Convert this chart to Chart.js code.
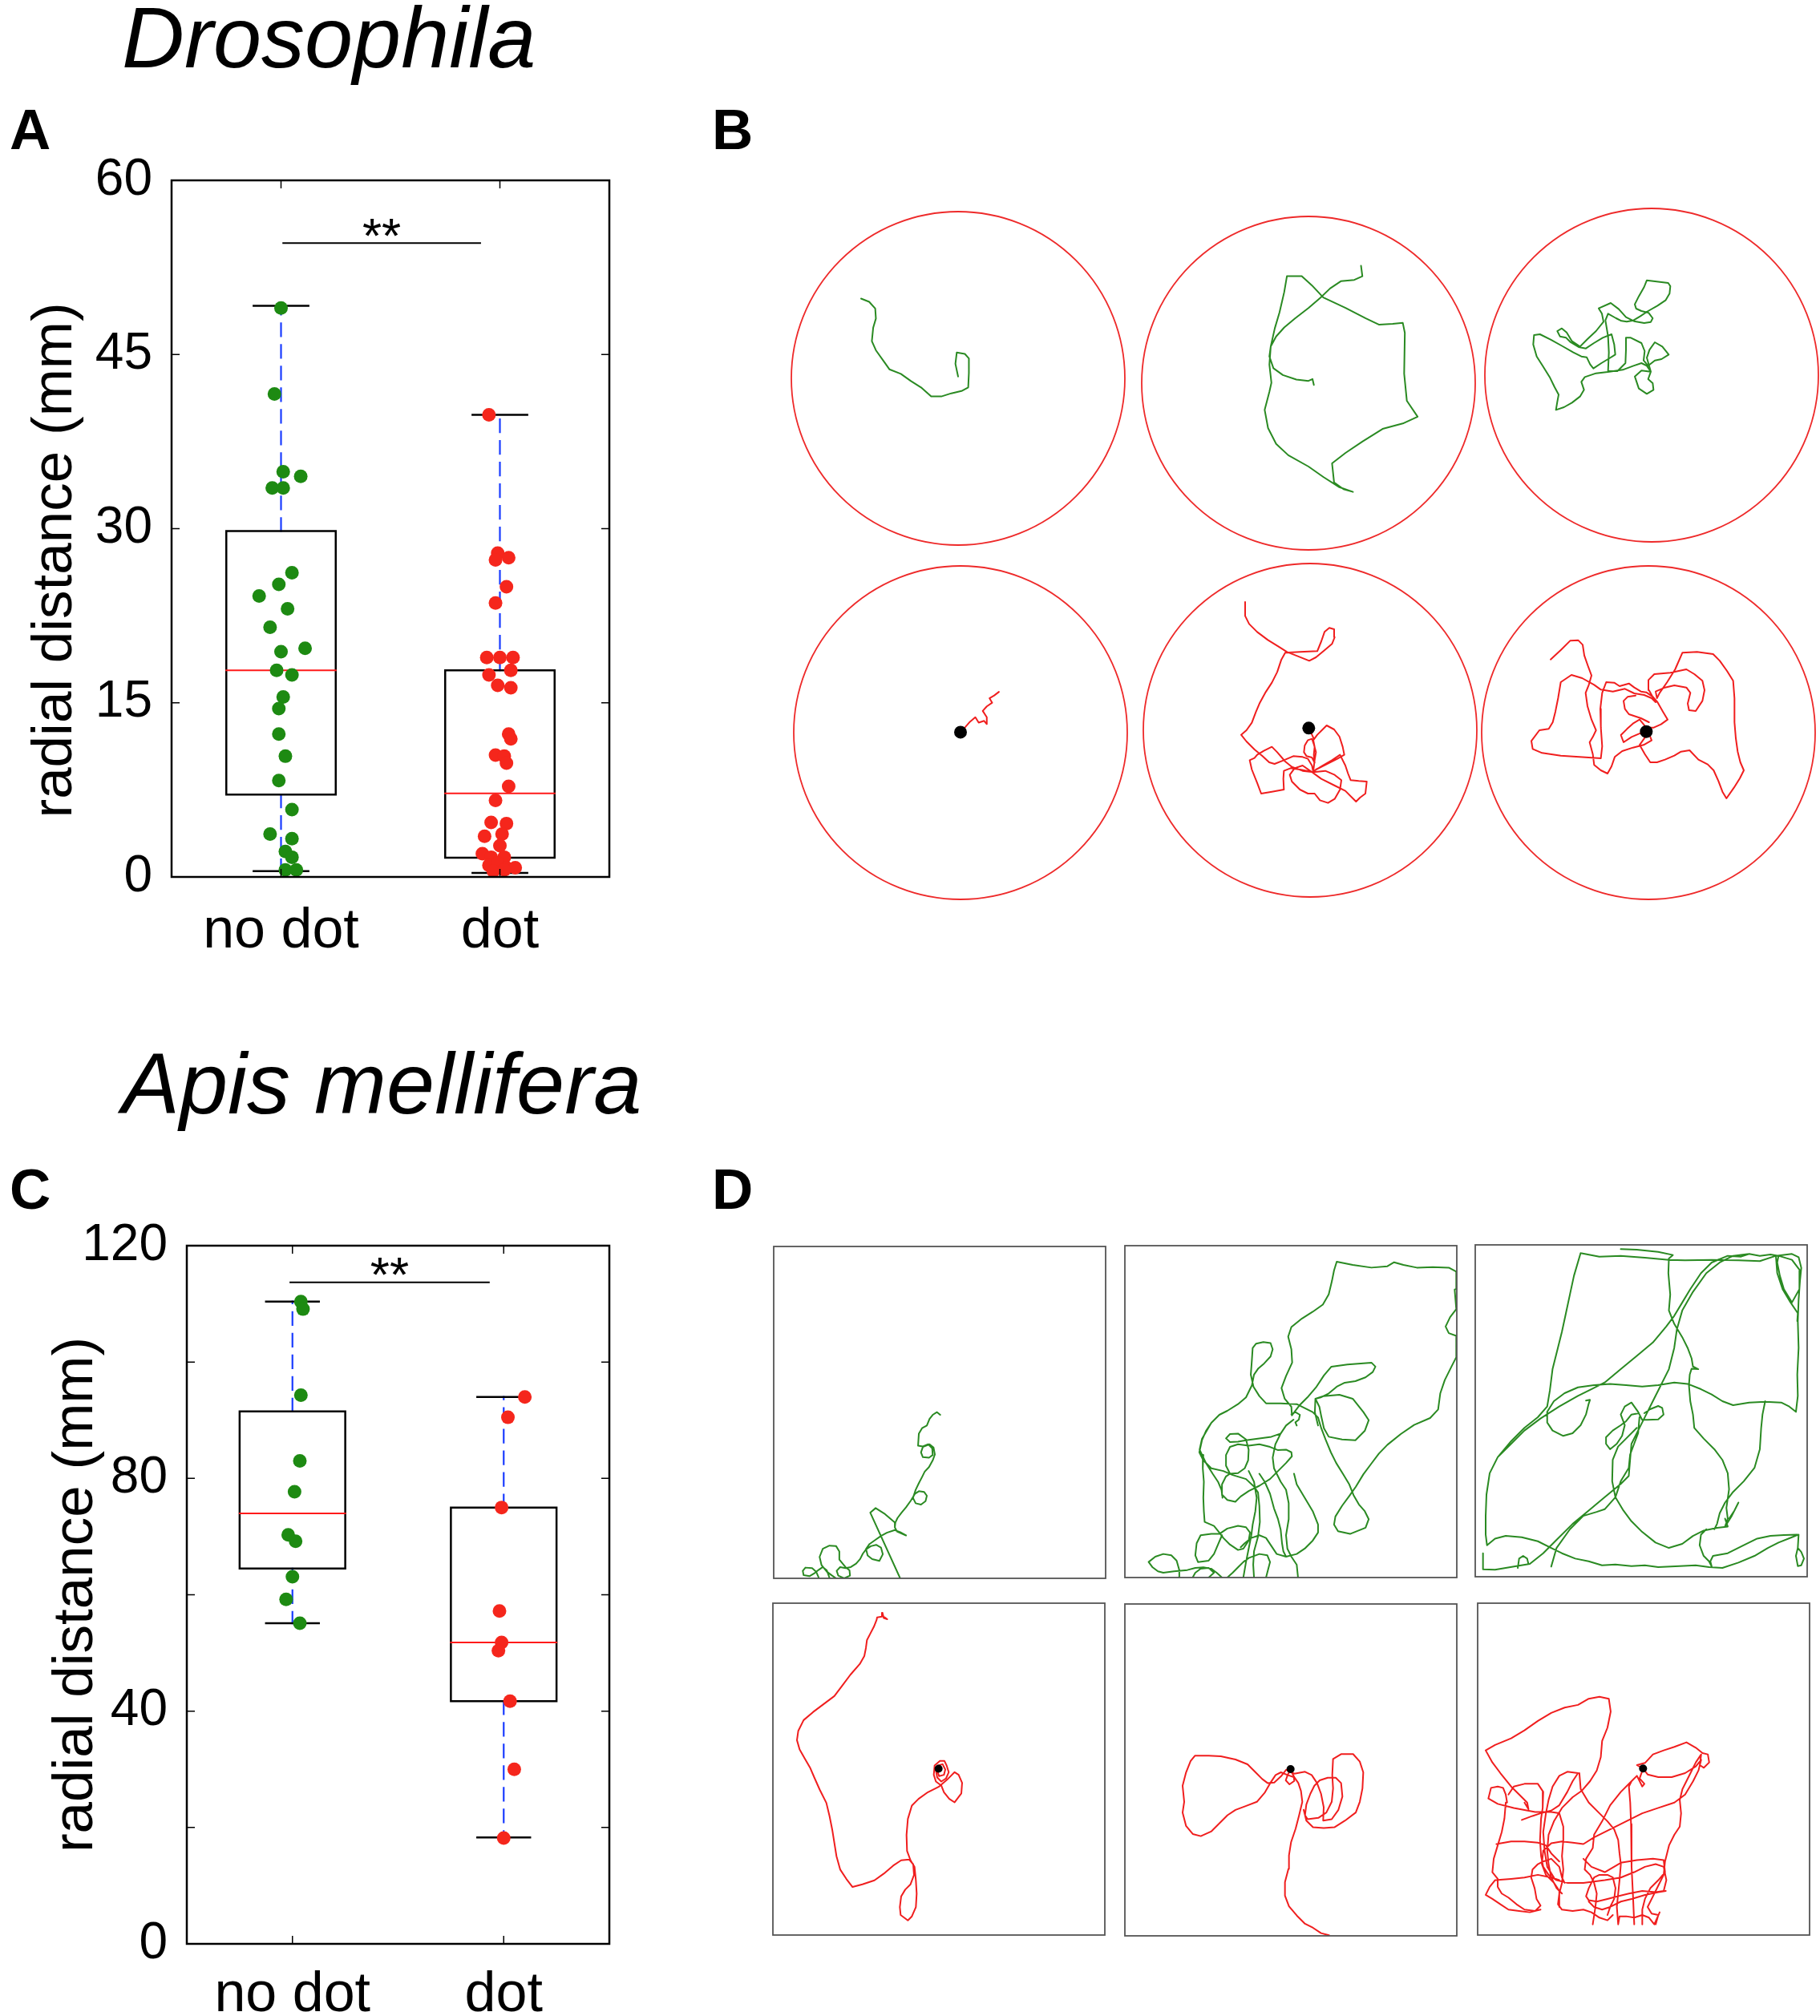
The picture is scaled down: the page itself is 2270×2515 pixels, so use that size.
<!DOCTYPE html>
<html>
<head>
<meta charset="utf-8">
<script src="https://cdn.jsdelivr.net/npm/chart.js@4.4.1/dist/chart.umd.min.js"></script>
<style>
  html, body { margin: 0; padding: 0; background: #fff; }
  #fig { position: relative; width: 2270px; height: 2515px; overflow: hidden; font-family: 'Liberation Sans', Arial, sans-serif; }
  #fig canvas { position: absolute; }
  .txt { position: absolute; line-height: 1; white-space: nowrap; color: #000; }
  .species { font-style: italic; font-size: 108px; }
  .panel { font-weight: bold; font-size: 71px; }
</style>
</head>
<body>
<div id="fig">
  <canvas id="chartA" width="800" height="1100" style="left:0;top:140px"></canvas>
  <canvas id="chartC" width="800" height="1045" style="left:0;top:1470px"></canvas>

  <canvas id="b1" width="440" height="440" style="left:975px;top:252px"></canvas>
  <canvas id="b2" width="440" height="440" style="left:1412px;top:258px"></canvas>
  <canvas id="b3" width="440" height="440" style="left:1840px;top:248px"></canvas>
  <canvas id="b4" width="440" height="440" style="left:978px;top:694px"></canvas>
  <canvas id="b5" width="440" height="440" style="left:1414px;top:691px"></canvas>
  <canvas id="b6" width="440" height="440" style="left:1836px;top:694px"></canvas>

  <canvas id="d1" width="434" height="434" style="left:955px;top:1545px"></canvas>
  <canvas id="d2" width="434" height="434" style="left:1393px;top:1544px"></canvas>
  <canvas id="d3" width="434" height="434" style="left:1830px;top:1543px"></canvas>
  <canvas id="d4" width="434" height="434" style="left:954px;top:1990px"></canvas>
  <canvas id="d5" width="434" height="434" style="left:1393px;top:1991px"></canvas>
  <canvas id="d6" width="434" height="434" style="left:1833px;top:1990px"></canvas>

  <div class="txt species" style="left:152px;top:-7px">Drosophila</div>
  <div class="txt species" style="left:152px;top:1298px">Apis mellifera</div>
  <div class="txt panel" style="left:12px;top:126px">A</div>
  <div class="txt panel" style="left:888px;top:126px">B</div>
  <div class="txt panel" style="left:12px;top:1448px">C</div>
  <div class="txt panel" style="left:888px;top:1448px">D</div>
</div>
<script>
// ---- box plot data (radial distance, mm) ----
const categories = ['no dot', 'dot'];

const droQ1 = [7.1, 1.65];
const droMedian = [17.8, 7.2];
const droQ3 = [29.8, 17.8];
const droWhiskerLo = [0.5, 0.35];
const droWhiskerHi = [49.2, 39.8];
const droNoDot = [49.0, 41.6, 34.9, 34.5, 33.5, 33.5, 26.2, 25.2, 24.2, 23.1, 21.5, 19.4, 19.7, 17.8, 17.4,
  15.5, 14.5, 12.3, 10.4, 8.3, 5.8, 3.7, 3.3, 2.2, 1.7, 0.6, 0.6];
const droNoDotJitter = [0, -0.03, 0.01, 0.09, -0.04, 0.01, 0.05, -0.01, -0.10, 0.03, -0.05, 0, 0.11, -0.02, 0.05,
  0.01, -0.01, -0.01, 0.02, -0.01, 0.05, -0.05, 0.05, 0.02, 0.05, 0.02, 0.07];
const droDot = [39.8, 27.9, 27.5, 27.3, 25.0, 23.6, 18.9, 18.9, 18.9, 17.4, 17.8, 16.5, 16.3, 12.3, 11.9, 10.5, 10.4,
  9.8, 7.8, 6.6, 4.7, 4.6, 3.5, 3.7, 2.7, 2.0, 1.7, 1.7, 1.0, 1.2, 0.8, 0.8, 0.5, 0.6];
const droDotJitter = [-0.05, -0.01, 0.04, -0.02, 0.03, -0.02, -0.06, 0, 0.06, -0.05, 0.05, -0.01, 0.05, 0.04, 0.05, -0.02, 0.02,
  0.03, 0.04, -0.02, -0.04, 0.03, -0.07, 0.01, 0, -0.08, -0.04, 0.02, -0.05, -0.01, 0.03, 0.07, -0.03, 0.02];
const droTicks = [0, 15, 30, 45, 60];
const droSignif = [1.01, 1.91, 54.6, 53.8]; // bar from, bar to, bar level, label baseline

const apiQ1 = [64.5, 41.7];
const apiMedian = [74.0, 51.8];
const apiQ3 = [91.5, 75.0];
const apiWhiskerLo = [55.1, 18.3];
const apiWhiskerHi = [110.4, 94.0];
const apiNoDot = [110.4, 109.1, 94.3, 83.0, 77.7, 70.3, 69.2, 63.1, 59.2, 55.1];
const apiNoDotJitter = [0.04, 0.05, 0.04, 0.035, 0.01, -0.02, 0.015, 0, -0.03, 0.035];
const apiDot = [94.0, 90.5, 75.0, 57.2, 51.8, 50.4, 41.7, 30.0, 18.2];
const apiDotJitter = [0.10, 0.02, -0.01, -0.02, -0.01, -0.025, 0.03, 0.05, 0];
const apiTicks = [0, 20, 40, 60, 80, 100, 120];
const apiSignif = [0.99, 1.93, 113.7, 112.2];

// ---- walking tracks, tracker pixel coords (y grows downwards), null = break ----
// circular arenas: [centre x, centre y, radius x, radius y]
const arenaB = [[280, 412, 247.5, 368], [800, 421, 247.5, 368], [508, 445, 624, 624],
  [283, 1194, 247.5, 368], [338, 508, 624, 624], [478, 459, 624, 624]];
const dotB = [null, null, null, [283, 1193], [333, 500], [470, 455]];

const trackB1 = [[136,236],[148,243],[157,258],[158,280],[154,300],[152,330],[158,350],[170,375],[178,392],[195,402],[210,418],
  [225,432],[240,452],[255,452],[270,445],[285,440],[295,432],[296,400],[296,368],[290,358],[278,355],[276,380],[280,408]];
const trackB2 = [[878,162],[880,185],[868,193],[848,196],[832,212],[818,232],[800,255],[780,278],[764,298],[752,318],[744,340],
  [742,362],[748,388],[762,403],[782,413],[800,416],[806,412],[808,425], null,
  [768,185],[790,185],[805,205],[822,232],[855,255],[885,278],[905,292],[925,290],[940,288],[943,310],[942,400],[946,460],
  [962,495],[940,510],[910,522],[880,550],[855,575],[835,598],[838,640],[852,655],[866,661],[845,650],[822,628],[800,605],
  [770,580],[752,555],[740,520],[735,480],[742,440],[745,420],[742,380],[744,340],[750,300],[757,265],[764,220],[768,185]];
const trackB3 = [[505,432],[490,410],[470,400],[440,410],[400,425],[350,432],[300,438],[258,452],[245,470],[255,500],[240,525],
  [210,548],[180,565],[150,575],[155,545],[160,518],[145,490],[128,455],[100,410],[78,375],[65,330],[68,295],[90,292],[130,312],
  [175,337],[215,360],[245,375],[265,378],[278,405],[290,420],[320,400],[350,382],[372,368],[368,330],[358,292],[325,305],
  [292,325],[262,345],[235,340],[205,322],[188,305],[165,300],[155,280],[172,270],[190,285],[210,318],[240,338],[268,310],
  [300,280],[328,245],[322,215],[310,195],[355,175],[385,198],[412,228],[442,243],[480,250],[505,246],[512,232],[497,212],
  [470,205],[450,196],[445,180],[460,150],[480,115],[490,90],[570,100],[578,112],[575,140],[560,165],[530,185],[495,205],
  [465,225],[440,240],[415,245],[395,242],[375,232],[345,215],[335,240],[345,300],[348,360],[345,430],[380,430],[410,400],
  [412,350],[412,305],[430,305],[470,325],[482,355],[478,390],[495,410],[520,390],[545,385],[572,368],[548,338],[520,322],
  [500,350],[490,380],[505,432],[470,428],[445,450],[460,495],[490,515],[515,500],[512,475],[495,460],[505,432]];
const trackB4 = [[283,1193],[290,1182],[297,1170],[305,1160],[310,1172],[318,1168],[322,1175],[322,1160],[316,1146],[322,1136],
  [330,1128],[326,1118],[333,1112],[340,1104]];
const trackB5 = [[95,28],[95,80],[110,110],[140,140],[180,170],[220,195],[252,215],[290,230],[335,248],[360,235],[390,210],
  [420,185],[430,160],[428,130],[410,125],[392,140],[380,175],[365,212],[300,215],[245,218],[230,245],[215,290],[195,330],
  [172,365],[150,405],[135,440],[120,480],[100,508],[80,525],[100,550],[130,580],[160,605],[185,628],[205,634],[240,620],
  [275,605],[310,608],[330,615],[345,640],[350,665],[310,660],[270,645],[245,625],[215,590],[195,570],[165,585],[140,600],
  [130,612],[112,620],[120,655],[140,705],[155,745],[195,738],[240,730],[238,690],[240,660],[265,650],[300,655],[350,665],
  [395,660],[430,675],[455,695],[450,730],[430,765],[405,780],[375,770],[355,745],[330,745],[300,730],[270,700],[262,675],
  [280,650],[310,640],[350,668],[380,690],[430,715],[470,735],[510,775],[525,760],[545,745],[550,700],[520,698],[490,695],
  [480,670],[470,640],[450,600],[420,620],[385,640],[350,662],[355,620],[360,590],[352,560],[345,540],[330,545],[318,565],
  [315,590],[325,605],[345,610],[355,630],[352,600],[355,570],[350,545],[365,525],[385,505],[400,490],[428,505],[448,532],
  [460,570],[466,600],[440,615],[400,635],[360,655], null, [345,500],[342,518],[352,540]];
const trackB6 = [[112,185],[150,150],[185,115],[215,113],[232,130],[238,170],[252,210],[265,245],[255,280],[243,310],[250,360],
  [265,410],[282,450],[270,475],[258,495],[270,540],[275,580],[300,600],[325,612],[340,585],[352,550],[380,528],[420,515],
  [460,505],[490,488],[480,462],[450,460],[415,475],[385,495],[375,468],[398,445],[420,425],[445,410],[470,440],[498,440],
  [525,428],[550,410],[532,380],[512,345],[495,325],[470,308],[450,305],[425,290],[405,275],[370,285],[350,272],[320,270],
  [305,310],[298,370],[300,440],[305,510],[300,555],[220,550],[150,545],[80,535],[45,520],[40,490],[70,450],[105,445],
  [120,420],[130,380],[140,330],[150,270],[190,243],[230,255],[275,280],[300,298],[345,305],[390,295],[425,312],[462,318],
  [490,330],[505,345],[480,300],[478,262],[500,240],[560,235],[620,222],[650,240],[680,265],[688,300],[680,340],[655,378],
  [630,375],[625,350],[635,310],[620,290],[575,282],[540,290],[505,305],[510,330],[520,310],[548,270],[578,222],[605,160],
  [660,157],[720,165],[745,190],[772,228],[795,265],[800,330],[800,420],[805,480],[812,530],[822,570],[835,600],[820,630],
  [798,665],[770,705],[755,680],[740,640],[722,600],[700,578],[665,560],[632,525],[600,530],[575,545],[540,560],[510,570],
  [485,570],[465,540],[445,505],[470,470],[471,456], null,
  [430,320],[400,325],[385,340],[390,370],[405,390],[450,405],[480,420]];

// square arenas: [x min, x max, y min, y max]
const arenaD = [[16, 1260, 22, 1260], [16, 1260, 18, 1258], [16, 1257, 14, 1258],
  [10, 1252, 12, 1255], [16, 1258, 22, 1260], [25, 1265, 15, 1255]];
const dotD = [null, null, null, [630, 632], [636, 638], [643, 633]];

const trackD1 = [[640,650],[628,640],[612,650],[600,665],[590,690],[572,700],[560,720],[557,765],[575,768],[595,760],[610,775],
  [612,800],[598,810],[575,808],[568,790],[575,770],[600,760],[615,772],[620,798],[612,820],[598,845],[582,862],[572,882],
  [560,905],[548,930],[538,960],[548,980],[568,985],[585,972],[590,952],[580,938],[560,935],[545,945],[530,970],[512,995],
  [495,1015],[480,1035],[472,1052],[470,1070],[478,1085],[512,1100],[490,1088],[470,1080],[440,1090],[418,1102],[395,1118],
  [375,1132],[362,1150],[368,1175],[385,1188],[412,1195],[425,1170],[418,1145],[400,1135],[380,1140],[362,1152],[350,1168],
  [340,1188],[325,1205],[305,1218],[285,1222],[265,1218],[252,1232],[258,1250],[280,1260],[302,1250],[300,1230],[285,1218],
  [262,1190],[262,1160],[250,1140],[225,1138],[200,1150],[188,1180],[195,1210],[215,1235],[235,1250],[250,1260], null,
  [185,1258],[175,1235],[160,1222],[135,1220],[125,1232],[128,1248],[150,1252],[170,1240],[185,1228],[200,1218],[215,1230],
  [225,1258], null, [468,1050],[430,1018],[398,998],[378,1015],[490,1260]];
const trackD2 = [[642,652],[640,620],[615,590],[603,550],[620,505],[643,455],[640,405],[628,358],[640,322],[680,290],[720,265],
  [758,238],[780,200],[792,150],[800,110],[810,78],[870,90],[940,100],[1000,95],[1025,80],[1060,90],[1110,100],[1170,98],
  [1230,100],[1258,115],[1258,180],[1252,182],[1258,255],[1235,285],[1218,320],[1230,345],[1258,355],[1258,435],[1240,470],
  [1215,520],[1198,570],[1190,630],[1160,662],[1100,688],[1050,722],[1000,762],[968,795],[940,832],[910,872],[882,918],
  [858,952],[830,990],[805,1030],[800,1060],[815,1085],[860,1095],[918,1072],[930,1040],[915,1010],[893,985],[873,950],
  [857,910],[833,870],[808,830],[788,790],[768,742],[752,700],[740,660],[720,640],[690,625],[660,610],[600,607],[545,607],
  [520,580],[498,545],[488,500],[492,445],[495,400],[508,384],[535,378],[562,382],[570,405],[562,432],[538,458],[515,478],
  [500,500],[492,540],[470,585],[440,610],[400,635],[370,650],[340,680],[320,710],[305,745],[295,790],[310,820],[340,850],
  [385,860],[420,875],[470,890],[500,918],[515,940],[520,990],[522,1050],[515,1105],[500,1160],[497,1210],[500,1258], null,
  [642,652],[670,615],[700,585],[732,548],[762,503],[790,470],[850,462],[900,458],[940,455],[955,470],[945,490],[918,510],
  [880,524],[840,530],[810,545],[780,570],[750,585],[730,590],[760,580],[820,575],[870,590],[910,640],[930,670],[915,710],
  [880,745],[830,742],[780,732],[762,700],[752,655],[745,620],[730,590],[728,640],[740,690], null,
  [648,668],[620,690],[600,720],[565,732],[520,738],[470,745],[440,750],[410,752],[395,738],[410,722],[440,720],[470,742],
  [480,780],[478,820],[465,850],[440,868],[410,870],[395,840],[395,800],[410,770],[440,760],[480,765],[520,760],[560,770],
  [590,782],[620,780],[640,790],[642,805],[620,830],[590,860],[560,890],[520,915],[480,935],[450,955],[430,975],[400,968],
  [382,950],[380,910],[395,880],[410,870], null,
  [310,800],[308,850],[312,900],[310,960],[312,1010],[315,1050],[350,1065],[370,1090],[385,1110],[410,1135],[440,1155],
  [460,1150],[480,1120],[485,1090],[470,1070],[440,1065],[400,1075],[370,1095],[340,1095],[300,1100],[285,1130],[280,1175],
  [290,1200],[330,1195],[350,1170],[365,1135],[380,1100], null,
  [600,720],[580,760],[570,810],[575,850],[585,870],[600,900],[620,930],[630,980],[630,1040],[620,1100],[625,1150],[640,1180],
  [660,1210],[665,1258], null,
  [650,870],[660,910],[690,960],[720,1010],[740,1060],[740,1090],[720,1120],[690,1150],[660,1170],[620,1180],[585,1170],
  [565,1140],[545,1110],[520,1100],[490,1110],[465,1130],[450,1145], null,
  [520,870],[540,900],[560,945],[575,1000],[590,1040],[600,1080],[605,1130],[610,1160],[620,1180], null,
  [480,860],[500,900],[510,960],[505,1010],[495,1060],[490,1100],[480,1150],[470,1200],[460,1258], null,
  [218,1258],[220,1230],[210,1195],[190,1175],[160,1170],[130,1180],[105,1200],[120,1220],[140,1235],[160,1240],[200,1235],
  [250,1230],[280,1222],[310,1220],[340,1225],[360,1240],[380,1258], null,
  [270,1258],[280,1240],[300,1225],[330,1222],[350,1240],[330,1258], null,
  [400,1258],[420,1240],[440,1220],[460,1200],[480,1185],[520,1170],[550,1175],[560,1200],[545,1258], null,
  [340,680],[305,740],[296,780],[320,830],[345,870],[365,900],[378,930],[382,960], null,
  [640,648],[655,640],[672,650],[668,668],[655,678],[660,690]];
const trackD3 = [[560,30],[620,32],[700,40],[755,52],[740,65],[738,120],[745,200],[740,260],[760,310],[790,360],[810,400],
  [825,440],[830,470],[850,480],[825,478],[818,500],[815,540],[820,600],[830,650],[835,700],[870,740],[910,780],[940,820],
  [960,870],[965,930],[955,1000],[960,1040],[950,1070],[975,1030],[1000,980],[985,1010],[965,1040], null,
  [410,45],[480,58],[560,55],[650,62],[740,70],[800,72],[900,70],[1000,72],[1080,75],[1140,55],[1200,48],[1225,60],[1235,100],
  [1230,150],[1225,220],[1222,300],[1225,400],[1220,500],[1222,580],[1215,640],[1190,620],[1160,605],[1100,602],[1040,605],
  [980,615],[940,600],[900,575],[860,555],[810,535],[760,530],[700,540],[640,545],[580,540],[520,535],[460,540],[400,548],
  [350,570],[310,600],[285,640],[285,680],[305,710],[345,730],[380,720],[410,690],[430,650],[440,610],[445,595],[430,598], null,
  [410,45],[385,130],[370,200],[355,270],[340,340],[325,400],[305,480],[295,560],[285,620],[250,660],[200,700],[150,750],
  [100,810],[70,870],[58,950],[55,1030],[55,1100],[60,1140],[90,1115],[130,1105],[190,1110],[250,1125],[300,1150],[340,1170],
  [390,1190],[440,1200],[490,1215],[540,1212],[600,1218],[650,1215],[700,1222],[780,1218],[840,1215],[890,1222],[940,1225],
  [1000,1205],[1060,1180],[1110,1150],[1150,1130],[1200,1110],[1225,1100],[1222,1150],[1235,1165],[1245,1190],[1235,1215],
  [1222,1218],[1215,1180],[1222,1150], null,
  [45,1170],[45,1230],[90,1232],[130,1225],[170,1218],[220,1210],[270,1170],[320,1120],[380,1060],[440,1010],[500,960],
  [560,910],[590,880],[595,820],[600,760],[620,720],[640,680],[660,640],[680,600],[700,560],[740,480],[760,400],[770,330],
  [790,260],[830,190],[880,120],[930,80],[980,55],[1040,48],[1080,55],[1120,50],[1150,55],[1200,70],[1230,110],[1228,180],
  [1200,230],[1170,180],[1155,130],[1145,80],[1150,55], null,
  [300,1220],[320,1150],[370,1080],[420,1030],[470,1015],[500,1005],[540,960],[560,900],[590,850],[595,800],[610,760],
  [625,720],[630,660], null,
  [628,645],[600,650],[580,675],[560,690],[530,710],[505,735],[505,760],[520,780],[545,760],[565,730],[575,690],[560,650],
  [575,620],[600,605],[625,640],[640,670],[660,670],[700,668],[720,650],[715,625],[700,618],[670,630],[648,645], null,
  [100,810],[150,760],[200,710],[260,665],[330,620],[400,580],[450,555],[500,530],[560,480],[620,430],[680,380],[730,320],
  [760,280],[790,230],[820,180],[860,120],[900,80],[960,55],[1010,58],[1040,48], null,
  [620,700],[580,740],[550,770],[530,820],[528,900],[540,960],[570,1010],[600,1050],[640,1090],[690,1130],[740,1150],
  [790,1135],[830,1105],[870,1085],[920,1075],[960,1070],[950,1040], null,
  [880,1080],[860,1100],[855,1140],[870,1180],[890,1200],[900,1220],[895,1200],[905,1180],[960,1170],[1020,1140],[1070,1115],
  [1120,1105],[1170,1102],[1220,1100], null,
  [1100,600],[1090,650],[1085,700],[1080,780],[1060,850],[1020,900],[980,940],[950,980],[930,1020],[920,1060],[910,1080], null,
  [1140,55],[1145,120],[1165,180],[1195,230],[1222,270],[1220,300], null,
  [175,1225],[180,1190],[195,1180],[210,1190],[215,1210]];
const trackD4 = [[420,48],[418,62],[400,65],[398,75],[388,100],[375,125],[362,150],[358,180],[352,210],[335,240],[300,280],
  [270,320],[240,360],[200,390],[160,420],[125,450],[105,490],[100,525],[110,560],[130,595],[150,630],[165,665],[185,710],
  [210,760],[222,810],[232,860],[240,910],[248,960],[262,1010],[285,1045],[308,1075],[345,1065],[390,1050],[425,1025],
  [460,995],[490,975],[520,972],[535,990],[538,1030],[525,1065],[505,1085],[490,1110],[485,1150],[488,1180],[515,1200],
  [530,1185],[545,1150],[548,1100],[545,1050],[540,1000],[525,975],[512,940],[510,880],[515,820],[530,770],[555,745],
  [590,720],[630,700],[665,670],[690,645],[705,655],[718,685],[715,725],[690,758],[670,745],[650,720],[640,695],[620,680],
  [612,655],[615,620],[635,603],[652,603],[660,620],[668,645],[658,668],[640,680],[625,665],[620,640],[628,620],[645,615],
  [655,635],[650,655],[632,660],[625,640], null, [420,48],[425,68],[438,72],[428,65]];
const trackD5 = [[780,1258],[750,1250],[720,1230],[690,1215],[660,1185],[630,1150],[615,1110],[615,1060],[628,1010],[630,960],
  [638,910],[655,860],[668,810],[680,760],[675,720],[665,690],[650,668],[640,650],[636,640],[625,660],[618,680],[632,695],
  [650,682],[648,668],[625,660],[600,650],[580,660],[560,690],[540,725],[510,760],[470,775],[430,790],[400,810],[370,840],
  [340,870],[300,888],[270,880],[245,850],[232,800],[238,760],[232,700],[245,650],[262,608],[278,588],[330,588],[375,590],
  [430,602],[475,620],[505,650],[530,675],[550,690],[575,688],[600,665],[620,640],[650,655],[690,648],[715,660],[735,690],
  [750,730],[760,780],[758,830],[790,825],[815,790],[830,740],[825,690],[805,670],[775,670],[745,680],[725,700],[710,730],
  [695,770],[690,810],[700,825],[740,820],[770,800],[790,760],[795,710],[792,660],[795,600],[825,582],[870,582],[895,610],
  [908,650],[905,710],[895,760],[880,800],[840,830],[800,855],[760,858],[720,855],[695,830],[685,790]];
const trackD6 = [[643,633],[620,620],[650,612],[680,580],[720,565],[760,552],[805,535],[840,555],[865,575],[885,580],[890,610],
  [870,630],[855,620],[860,580],[840,610],[820,650],[790,710],[780,750],[785,800],[780,850],[760,880],[740,920],[725,980],
  [720,1030],[700,1070],[680,1110],[660,1150],[675,1175],[700,1180],[690,1215], null,
  [643,633],[660,655],[700,665],[750,665],[800,650],[840,625],[860,600],[850,640],[830,680],[800,730],[760,760],[700,780],
  [640,800],[580,830],[520,860],[460,890],[420,915],[380,910],[340,905],[300,912],[270,940],[265,990],[280,1030],[310,1060],
  [330,1090],[330,1150], null,
  [55,565],[90,545],[150,520],[200,490],[250,455],[300,425],[350,405],[400,395],[440,372],[480,365],[515,372],[522,420],
  [510,480],[490,530],[485,590],[470,640],[445,680],[415,715],[380,740],[340,780],[310,830],[290,880],[285,940],[290,990],
  [300,1040],[320,1080],[340,1100], null,
  [55,565],[80,610],[110,650],[150,700],[190,740],[210,760],[215,785],[200,760], null,
  [65,745],[100,765],[160,780],[240,795],[300,795],[330,800],[345,850],[345,900],[340,960],[345,1010],[340,1060],[330,1100],
  [325,1140],[340,1160],[380,1165],[420,1160],[450,1170],[480,1190],[510,1200],[530,1180], null,
  [65,745],[75,705],[100,700],[120,705],[130,730],[135,760],[130,760],[125,820],[115,870],[100,920],[85,970],[80,1020],
  [100,1045],[100,1075],[115,1100],[140,1115],[170,1140],[200,1160],[240,1165],[260,1145],[245,1120],[238,1080],[225,1040],
  [230,1010],[250,990],[270,980],[300,970],[330,1000],[340,1040],[350,1060], null,
  [140,730],[160,700],[200,690],[250,690],[270,720],[268,780],[262,820],[258,900],[262,960],[270,1000],[290,1030],[320,1050],
  [360,1060],[420,1060],[460,1055],[500,1050],[560,1040],[610,1020],[650,1000],[690,990],[720,1000],[730,1050],[720,1090],
  [690,1095],[640,1090],[590,1100],[550,1110],[510,1120],[470,1130],[440,1125],[430,1110],[440,1080],[460,1040],[480,1030],
  [510,1030],[530,1040],[540,1080],[535,1120],[520,1150],[510,1180], null,
  [55,1105],[70,1075],[90,1050],[150,1045],[200,1040],[250,1030],[300,1040],[330,1050], null,
  [95,915],[150,905],[200,905],[250,910],[280,920],[300,950],[330,980], null,
  [55,1105],[80,1120],[110,1140],[140,1160],[180,1165],[220,1170],[260,1160], null,
  [190,825],[230,810],[260,800],[300,790],[330,770],[360,720],[380,680],[400,650],[360,645],[330,660],[305,700],[290,750],
  [280,800],[270,870],[275,940],[285,1000],[310,1040], null,
  [405,650],[410,710],[440,760],[480,800],[510,830],[535,860],[550,900],[555,950],[560,990],[555,1050],[550,1100],[545,1150],
  [550,1215], null,
  [600,680],[590,700],[595,760],[598,840],[600,900],[600,1000],[605,1100],[610,1215], null,
  [600,680],[560,720],[520,770],[490,830],[460,880],[455,930],[430,970],[425,1010],[445,1030],[460,1060],[470,1100],[465,1150],
  [455,1215], null,
  [420,970],[450,1000],[500,1020],[560,985],[620,975],[680,970],[720,975],[725,1020],[700,1050],[670,1080],[650,1120],
  [640,1160],[640,1215], null,
  [440,1130],[460,1150],[490,1160],[520,1150],[560,1130],[600,1120],[650,1105],[700,1095],[728,1090], null,
  [550,1215],[555,1185],[580,1185],[610,1190],[640,1180],[665,1190],[685,1215],[705,1170], null,
  [600,680],[620,660],[640,700],[648,690],[630,670],[643,633]];

// ---- styles ----
const GREEN = '#1d8a12';
const RED = '#f5261c';
const TRACK_GREEN = '#2a8a22';
const TRACK_RED = '#f01e1e';
const BOX_HALF = 0.25;
const CAP_HALF = 0.125;
const FONT = "'Liberation Sans', Arial, sans-serif";

Chart.defaults.font.family = FONT;
Chart.defaults.color = '#000';
Chart.defaults.animation = false;

const GAP = {x: null, y: null};
const toXY = (pts) => pts.map(p => (p ? {x: p[0], y: p[1]} : GAP));

// frame around plot area, with inward tick marks
const framePlugin = {
  id: 'frame',
  afterDraw(chart, args, opts) {
    const {ctx, chartArea: a, scales: {x, y}} = chart;
    ctx.save();
    ctx.strokeStyle = opts.color;
    ctx.lineWidth = opts.width;
    ctx.strokeRect(a.left, a.top, a.right - a.left, a.bottom - a.top);
    if (opts.tickLen) {
      const L = opts.tickLen;
      ctx.lineWidth = 1.5;
      ctx.beginPath();
      y.ticks.forEach(t => {
        const py = y.getPixelForValue(t.value);
        ctx.moveTo(a.left, py); ctx.lineTo(a.left + L, py);
        ctx.moveTo(a.right, py); ctx.lineTo(a.right - L, py);
      });
      x.ticks.forEach(t => {
        const px = x.getPixelForValue(t.value);
        ctx.moveTo(px, a.top); ctx.lineTo(px, a.top + L);
        ctx.moveTo(px, a.bottom); ctx.lineTo(px, a.bottom - L);
      });
      ctx.stroke();
    }
    ctx.restore();
  }
};

// "**" significance mark placed in data coordinates
const signifPlugin = {
  id: 'signif',
  afterDatasetsDraw(chart, args, opts) {
    const {ctx, scales: {x, y}} = chart;
    ctx.save();
    ctx.font = '62px ' + FONT;
    ctx.fillStyle = '#000';
    ctx.textAlign = 'center';
    ctx.textBaseline = 'alphabetic';
    ctx.fillText('**', x.getPixelForValue((opts.from + opts.to) / 2), y.getPixelForValue(opts.labelY));
    ctx.restore();
  }
};

// circular arena outline
const arenaPlugin = {
  id: 'arena',
  beforeDatasetsDraw(chart, args, opts) {
    const {ctx, scales: {x, y}} = chart;
    const cx = x.getPixelForValue(opts.cx), cy = y.getPixelForValue(opts.cy);
    const rx = Math.abs(x.getPixelForValue(opts.cx + opts.rx) - cx);
    const ry = Math.abs(y.getPixelForValue(opts.cy + opts.ry) - cy);
    ctx.save();
    ctx.strokeStyle = opts.color;
    ctx.lineWidth = 1.8;
    ctx.beginPath();
    ctx.ellipse(cx, cy, rx, ry, 0, 0, Math.PI * 2);
    ctx.stroke();
    ctx.restore();
  }
};

function boxChart(id, s) {
  const box = [], med = [], whisk = [], caps = [];
  categories.forEach((c, i) => {
    const x = i + 1;
    box.push({x: x - BOX_HALF, y: s.q1[i]}, {x: x + BOX_HALF, y: s.q1[i]}, {x: x + BOX_HALF, y: s.q3[i]},
      {x: x - BOX_HALF, y: s.q3[i]}, {x: x - BOX_HALF, y: s.q1[i]}, GAP);
    med.push({x: x - BOX_HALF, y: s.med[i]}, {x: x + BOX_HALF, y: s.med[i]}, GAP);
    whisk.push({x, y: s.q3[i]}, {x, y: s.hi[i]}, GAP, {x, y: s.q1[i]}, {x, y: s.lo[i]}, GAP);
    caps.push({x: x - CAP_HALF, y: s.hi[i]}, {x: x + CAP_HALF, y: s.hi[i]}, GAP,
      {x: x - CAP_HALF, y: s.lo[i]}, {x: x + CAP_HALF, y: s.lo[i]}, GAP);
  });
  const pts = (vals, jit, cat) => vals.map((v, i) => ({x: cat + jit[i], y: v}));
  const line = (data, color, width, dash) => ({
    data, showLine: true, borderColor: color, borderWidth: width, borderDash: dash || [],
    pointRadius: 0, borderCapStyle: 'square'
  });

  new Chart(document.getElementById(id), {
    type: 'scatter',
    data: {
      datasets: [
        {data: pts(s.noDot, s.noDotJit, 1), pointRadius: 8.5, backgroundColor: GREEN, pointBorderWidth: 0},
        {data: pts(s.dot, s.dotJit, 2), pointRadius: 8.5, backgroundColor: RED, pointBorderWidth: 0},
        line(med, '#ff1a1a', 2),
        line(box, '#000', 2.5),
        line(caps, '#000', 2.5),
        line(whisk, '#1a3cff', 2.2, [16, 11]),
        line([{x: s.sig[0], y: s.sig[2]}, {x: s.sig[1], y: s.sig[2]}], '#000', 2)
      ]
    },
    options: {
      responsive: false,
      events: [],
      layout: {padding: {top: s.padTop, right: 40, left: 0, bottom: 0}},
      plugins: {
        legend: {display: false},
        tooltip: {enabled: false},
        frame: {color: '#000', width: 2.5, tickLen: 10},
        signif: {from: s.sig[0], to: s.sig[1], labelY: s.sig[3]}
      },
      scales: {
        x: {
          type: 'linear', min: 0.5, max: 2.5,
          grid: {display: false, drawTicks: false}, border: {display: false},
          afterBuildTicks: (sc) => { sc.ticks = categories.map((c, i) => ({value: i + 1})); },
          afterFit: (sc) => { sc.height = s.xHeight; },
          ticks: {
            autoSkip: false, maxRotation: 0, padding: s.xPad,
            font: {size: 70}, color: '#000',
            callback: (v) => categories[v - 1]
          }
        },
        y: {
          type: 'linear', min: s.ticks[0], max: s.ticks[s.ticks.length - 1],
          grid: {display: false, drawTicks: false}, border: {display: false},
          afterBuildTicks: (sc) => { sc.ticks = s.ticks.map(v => ({value: v})); },
          afterFit: (sc) => { sc.width = s.yWidth; },
          ticks: {
            padding: 24, font: {size: 64}, color: '#000',
            callback: (v) => (s.labelEvery && v % s.labelEvery !== 0 ? '' : v)
          },
          title: {
            display: true, text: 'radial distance (mm)' + s.titleTail, color: '#000',
            font: {size: 71}, padding: {top: s.titlePad, bottom: 0}
          }
        }
      }
    },
    plugins: [framePlugin, signifPlugin]
  });
}

boxChart('chartA', {
  q1: droQ1, med: droMedian, q3: droQ3, lo: droWhiskerLo, hi: droWhiskerHi,
  noDot: droNoDot, noDotJit: droNoDotJitter, dot: droDot, dotJit: droDotJitter,
  ticks: droTicks, labelEvery: 0, sig: droSignif,
  padTop: 85, xHeight: 146, xPad: 27, yWidth: 214, titlePad: 27, titleTail: '    '
});

boxChart('chartC', {
  q1: apiQ1, med: apiMedian, q3: apiQ3, lo: apiWhiskerLo, hi: apiWhiskerHi,
  noDot: apiNoDot, noDotJit: apiNoDotJitter, dot: apiDot, dotJit: apiDotJitter,
  ticks: apiTicks, labelEvery: 40, sig: apiSignif,
  padTop: 84, xHeight: 90, xPad: 23, yWidth: 233, titlePad: 53, titleTail: ''
});

function trackChart(id, track, color, dot, view, pad, extra) {
  const datasets = [{
    data: toXY(track), showLine: true, borderColor: color, borderWidth: 2,
    pointRadius: 0, borderJoinStyle: 'round', borderCapStyle: 'round'
  }];
  if (dot) {
    datasets.unshift({data: [{x: dot[0], y: dot[1]}], pointRadius: extra.dotRadius, backgroundColor: '#000', pointBorderWidth: 0});
  }
  new Chart(document.getElementById(id), {
    type: 'scatter',
    data: {datasets},
    options: {
      responsive: false,
      events: [],
      layout: {padding: pad},
      plugins: Object.assign({legend: {display: false}, tooltip: {enabled: false}}, extra.plugins),
      scales: {
        x: {display: false, min: view[0], max: view[1]},
        y: {display: false, min: view[2], max: view[3], reverse: true}
      }
    },
    plugins: extra.list
  });
}

const tracksB = [trackB1, trackB2, trackB3, trackB4, trackB5, trackB6];
tracksB.forEach((t, i) => {
  const [cx, cy, rx, ry] = arenaB[i];
  trackChart('b' + (i + 1), t, i < 3 ? TRACK_GREEN : TRACK_RED, dotB[i], [cx - rx, cx + rx, cy - ry, cy + ry], 12, {
    dotRadius: 8,
    plugins: {arena: {cx, cy, rx, ry, color: '#ee2a2a'}},
    list: [arenaPlugin]
  });
});

const tracksD = [trackD1, trackD2, trackD3, trackD4, trackD5, trackD6];
tracksD.forEach((t, i) => {
  trackChart('d' + (i + 1), t, i < 3 ? TRACK_GREEN : TRACK_RED, dotD[i], arenaD[i], 10, {
    dotRadius: 5,
    plugins: {frame: {color: '#555', width: 1.8, tickLen: 0}},
    list: [framePlugin]
  });
});
</script>
</body>
</html>
